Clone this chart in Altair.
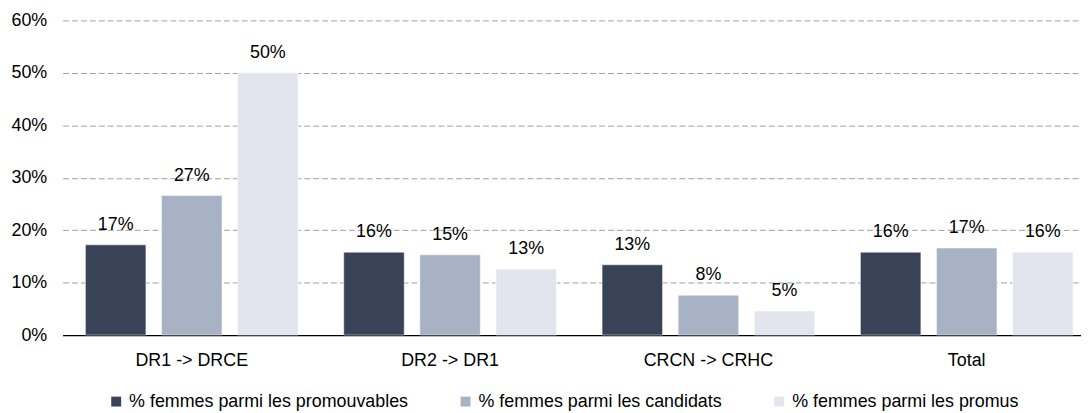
import altair as alt
import pandas as pd

categories = ["DR1 -> DRCE", "DR2 -> DR1", "CRCN -> CRHC", "Total"]
series = ["% femmes parmi les promouvables", "% femmes parmi les candidats", "% femmes parmi les promus"]
promouvables = [0.172, 0.158, 0.134, 0.158]
candidats = [0.266, 0.153, 0.076, 0.166]
promus = [0.50, 0.126, 0.046, 0.158]
colors = ["#394358", "#a8b2c5", "#e2e5ed"]
y_ticks = [0, 0.1, 0.2, 0.3, 0.4, 0.5, 0.6]

rows = []
for name, vals in zip(series, [promouvables, candidats, promus]):
    for c, v in zip(categories, vals):
        rows.append({"cat": c, "serie": name, "val": v})
df = pd.DataFrame(rows)

FONT = "Liberation Sans"

x = alt.X("cat:N", sort=categories, title=None,
          scale=alt.Scale(range=[0, 1041], paddingInner=0, paddingOuter=0),
          axis=alt.Axis(labelAngle=0, labelFontSize=18, labelColor="#000000", labelFont=FONT,
                        ticks=False, tickSize=0, labelPadding=17, domainColor="#000000", domainWidth=1.2))
xo = alt.XOffset("serie:N", sort=series,
                 scale=alt.Scale(paddingInner=0.205, paddingOuter=0.3))
y = alt.Y("val:Q", title=None,
          scale=alt.Scale(domain=[0, 0.6]),
          axis=alt.Axis(values=y_ticks, format=".0%", labelFontSize=18, labelColor="#000000",
                        labelFont=FONT, ticks=False, tickSize=0, labelPadding=16, domain=False,
                        grid=True, gridColor="#a0a0a0", gridDash=[6, 3], gridWidth=1))
color = alt.Color("serie:N", sort=series,
                  scale=alt.Scale(domain=series, range=colors),
                  legend=alt.Legend(title=None, orient="none", legendX=45, legendY=375,
                                    direction="horizontal", symbolType="square", symbolSize=100,
                                    symbolStrokeWidth=0, labelFontSize=18, labelFont=FONT,
                                    labelColor="#000000", labelOffset=4, columnPadding=48,
                                    labelLimit=0, padding=0))

bars = alt.Chart(df).mark_bar(stroke="white", strokeWidth=0.5).encode(x=x, xOffset=xo, y=y, color=color)
labels = alt.Chart(df).mark_text(baseline="alphabetic", dy=-15, fontSize=18, font=FONT, color="#000000").encode(
    x=alt.X("cat:N", sort=categories), xOffset=alt.XOffset("serie:N", sort=series),
    y="val:Q", text=alt.Text("val:Q", format=".0%"))

chart = (bars + labels).properties(
    width=1026, height=317,
    autosize=alt.AutoSizeParams(type="none"),
    padding={"left": 55, "top": 11, "right": 0, "bottom": 77},
).configure_view(stroke=None)

chart.save("out.html", embed_options={"renderer": "svg", "actions": False})
